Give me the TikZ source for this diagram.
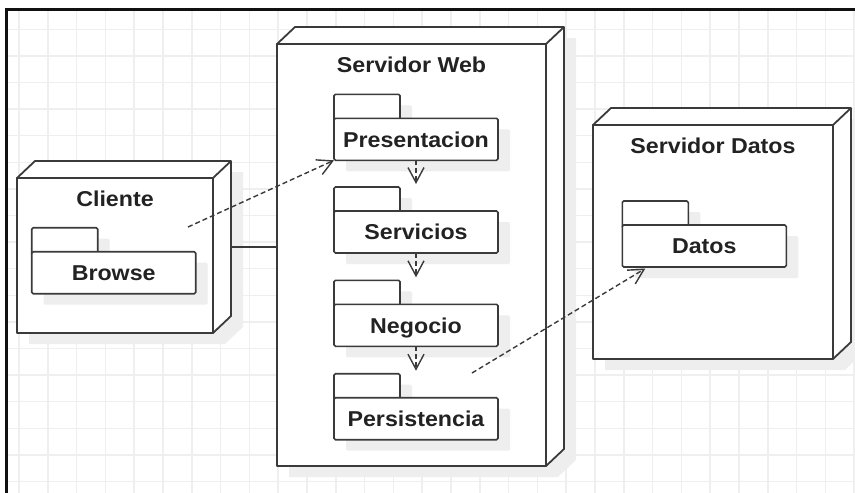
\documentclass[tikz,border=0pt]{standalone}
\usepackage{fontspec}
\newfontfamily\diagfont{Liberation Sans}[FakeStretch=1.08]
\usetikzlibrary{arrows.meta,calc,shadows}

\definecolor{gridgray}{HTML}{EFEFEF}
\definecolor{shadowgray}{HTML}{EEEEEE}
\definecolor{edgegray}{HTML}{3A3A3A}
\definecolor{inkgray}{HTML}{222222}
\definecolor{framegray}{HTML}{111111}

\tikzset{
  labelfont/.style={font=\diagfont\bfseries\fontsize{21.5}{24}\selectfont, text=inkgray,
    text height=15.4pt, text depth=0pt},
  devface/.style={draw=edgegray, line width=1.8pt, fill=white, inner sep=0pt,
    outer sep=0pt, line join=round},
  devside/.style={draw=edgegray, line width=1.8pt, fill=white, line join=round},
  devtitle/.style={labelfont, inner sep=0pt},
  pkgshadow/.style={drop shadow={shadow xshift=12pt, shadow yshift=-11pt,
    fill=shadowgray, opacity=1}},
  pkgtab/.style={draw=edgegray, line width=1.6pt, fill=white, rounded corners=1.5pt,
    minimum width=66pt, minimum height=27pt, inner sep=0pt, outer sep=0pt, pkgshadow},
  pkgbody/.style={draw=edgegray, line width=1.6pt, fill=white, rounded corners=1.5pt,
    minimum width=164pt, minimum height=42pt, inner sep=0pt, outer sep=0pt,
    pkgshadow, labelfont},
  link/.style={draw=edgegray, line width=1.6pt},
  dep/.style={draw=edgegray, line width=1.4pt, dash pattern=on 5pt off 3pt,
    -{Straight Barb[length=15pt,width=16pt,line width=1.4pt]}},
}

% 3D deployment node: name, front-face top-left (x,y), width, height, title
\newcommand\devicenode[6]{%
  \fill[shadowgray] ($(#2,#3)+(12,11)$) -- ++(18,-17) -- ++(#4,0) -- ++(0,#5)
    -- ++(-18,17) -- ++(-#4,0) -- cycle;
  \node[devface, anchor=north west, minimum width=#4pt, minimum height=#5pt] (#1) at (#2,#3) {};
  \draw[devside] (#1.north west) -- ++(18,-17) -- ++(#4,0) -- ++(0,#5)
    -- (#1.south east) -- (#1.north east) -- cycle;
  \draw[devside] (#1.north east) -- ++(18,-17);
  \node[devtitle] (#1title) at ($(#1.north)+(0,21)$) {#6};
}

% UML package: the tab reaches 3pt under the body, which is drawn over it
\newcommand\umlpackage[4]{%
  \node[pkgtab, anchor=south west] (#1tab) at (#2,{#3+3}) {};
  \node[pkgbody, anchor=north west] (#1) at (#2,#3) {#4};
}

\begin{document}
\begin{tikzpicture}[x=1pt, y=-1pt]
  \useasboundingbox (0,0) rectangle (855,493);

  % background grid
  \foreach \k in {0,...,29} {
    \draw[gridgray, line width=1.5pt] ({19+28.8*\k},10) -- ({19+28.8*\k},493);
  }
  \foreach \k in {0,...,17} {
    \draw[gridgray, line width=1.5pt] (8,{29.3+26.6*\k}) -- (855,{29.3+26.6*\k});
  }

  % frame
  \draw[framegray, line width=3pt] (5,9.5) -- (855,9.5);
  \draw[framegray, line width=3pt] (6.5,8) -- (6.5,493);

  % deployment nodes
  \devicenode{cliente}{17}{178}{196}{155}{Cliente}
  \devicenode{web}{277}{44}{269}{422}{Servidor Web}
  \devicenode{datosnode}{593}{125}{240}{234}{Servidor Datos}

  % packages
  \umlpackage{browse}{31.7}{251.7}{Browse}
  \umlpackage{presentacion}{334}{118.3}{Presentacion}
  \umlpackage{servicios}{334}{211}{Servicios}
  \umlpackage{negocio}{334}{304.3}{Negocio}
  \umlpackage{persistencia}{334}{397.7}{Persistencia}
  \umlpackage{datos}{622.3}{225}{Datos}

  % communication links between nodes
  \coordinate (clienteside) at ($(cliente.east)+(18,-8.5)$);
  \draw[link] (clienteside) -- (clienteside -| web.west);
  \coordinate (webside) at ($(web.north east)+(18,0)$);
  \draw[link] ($(datosnode.west)+(0,-1)$) -- ($(datosnode.west)+(0,-1)$ -| webside);

  % layer dependencies
  \draw[dep, shorten >=3pt] (presentacion.south) -- (presentacion.south |- serviciostab.north);
  \draw[dep, shorten >=3pt] (servicios.south) -- (servicios.south |- negociotab.north);
  \draw[dep, shorten >=3pt] (negocio.south) -- (negocio.south |- persistenciatab.north);

  % cross-node dependencies
  \coordinate (browsecall) at (188,227);
  \draw[dep] (browsecall) -- (presentacion.south west);
  \coordinate (persistcall) at (472,373);
  \draw[dep] (persistcall) -- ($(datos.south west)+(23,1.5)$);
\end{tikzpicture}
\end{document}
